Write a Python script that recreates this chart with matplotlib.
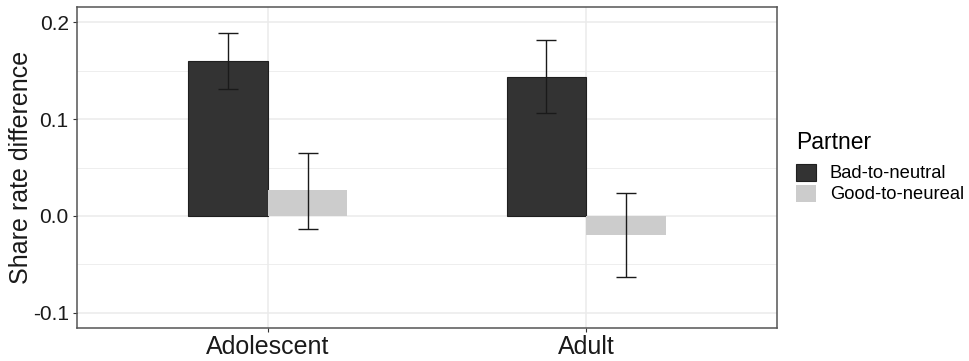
import matplotlib
matplotlib.use("Agg")
import matplotlib.pyplot as plt
import numpy as np

plt.rcParams["font.family"] = ["Liberation Sans", "DejaVu Sans"]

groups = ["Adolescent", "Adult"]
partners = ["Bad-to-neutral", "Good-to-neureal"]
colors = ["#333333", "#CCCCCC"]
edges = ["#1F1F1F", "none"]
means = {
    "Bad-to-neutral": [0.160, 0.143],
    "Good-to-neureal": [0.027, -0.020],
}
err_lo = {
    "Bad-to-neutral": [0.131, 0.106],
    "Good-to-neureal": [-0.013, -0.063],
}
err_hi = {
    "Bad-to-neutral": [0.189, 0.181],
    "Good-to-neureal": [0.065, 0.024],
}

fig = plt.figure(figsize=(9.69, 3.61), dpi=100)
ax = fig.add_axes([77 / 969, 1 - 328 / 361, 700 / 969, 321 / 361])

x = np.arange(len(groups)) + 1
bw = 0.25
for i, p in enumerate(partners):
    xs = x + (i - 0.5) * bw
    m = np.array(means[p])
    ax.bar(xs, m, width=bw, color=colors[i], edgecolor=edges[i],
           linewidth=0.8, label=p, zorder=2)
    lo = m - np.array(err_lo[p])
    hi = np.array(err_hi[p]) - m
    ax.errorbar(xs, m, yerr=[lo, hi], fmt="none", ecolor="#1A1A1A",
                elinewidth=1.0, capsize=7.5, capthick=1.0, zorder=3)

ax.set_xlim(0.4, 2.6)
ax.set_ylim(-0.1155, 0.2155)
ax.set_xticks(x)
ax.set_xticklabels(groups)
ax.set_yticks([-0.1, 0.0, 0.1, 0.2])
ax.set_yticklabels(["-0.1", "0.0", "0.1", "0.2"])
ax.set_yticks([-0.05, 0.05, 0.15], minor=True)
ax.tick_params(axis="x", which="minor", bottom=False)
ax.grid(True, which="major", color="#EBEBEB", lw=1.1, zorder=0)
ax.grid(True, which="minor", axis="y", color="#EBEBEB", lw=0.6, zorder=0)
ax.set_axisbelow(True)
ax.tick_params(axis="both", which="major", length=3, width=0.8, color="#333333",
               labelcolor="#1A1A1A", pad=3)
ax.tick_params(axis="y", which="minor", length=0)
ax.tick_params(axis="y", labelsize=15)
ax.tick_params(axis="x", labelsize=18, pad=2)
for sp in ax.spines.values():
    sp.set_color("#555555")
    sp.set_linewidth(1.1)
ax.set_ylabel("Share rate difference", fontsize=18, color="#1A1A1A", labelpad=0)

leg = fig.legend(loc="upper left", bbox_to_anchor=(796 / 969, 1 - 131 / 361),
                 title="Partner", frameon=False, fontsize=13.2,
                 title_fontsize=16.5, handlelength=1.1, handleheight=1.05,
                 labelspacing=0.12, handletextpad=0.75, alignment="left",
                 borderaxespad=0, borderpad=0)
# a bit more room between the title and the keys
leg._legend_box.sep = 7

fig.savefig("out.png", dpi=100, facecolor="white")
